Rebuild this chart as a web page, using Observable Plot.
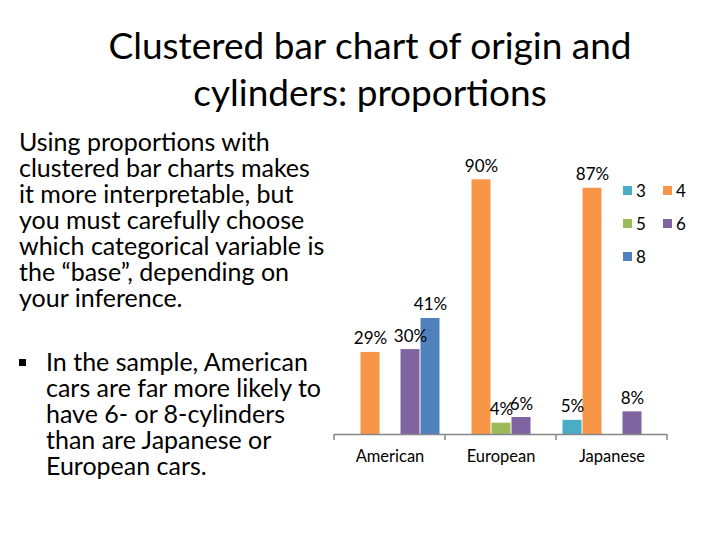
<!DOCTYPE html>
<html>
<head>
<meta charset="utf-8">
<script src="https://cdn.jsdelivr.net/npm/d3@7"></script>
<script src="https://cdn.jsdelivr.net/npm/@observablehq/plot@0.6"></script>
<style>
  html, body { margin: 0; padding: 0; background: #fff; }
  #page { position: relative; width: 720px; height: 540px; overflow: hidden; font-family: Lato, "Noto Sans", sans-serif; color: #000; }
  #title { position: absolute; left: 0; width: 740px; top: 21px; text-align: center; font-size: 37px; line-height: 47px; }
  #body { position: absolute; left: 19px; top: 128px; font-size: 25px; line-height: 26px; white-space: pre; }
  #bullet { position: absolute; left: 46px; top: 348px; font-size: 25px; line-height: 26px; white-space: pre; }
  #bulletMark { position: absolute; left: 19px; top: 359px; width: 7px; height: 7px; background: #000; }
  #chart { position: absolute; left: 333px; top: 140px; }
  #legend { position: absolute; left: 623px; top: 180px; font-size: 17px; }
  .item { position: absolute; display: flex; align-items: center; white-space: nowrap; }
  .sw { width: 9px; height: 9px; margin-right: 4px; }
</style>
</head>
<body>
<div id="page">
  <div id="title">Clustered bar chart of origin and<br>cylinders: proportions</div>
  <div id="body">Using proportions with
clustered bar charts makes
it more interpretable, but
you must carefully choose
which categorical variable is
the “base”, depending on
your inference.</div>
  <div id="bulletMark"></div>
  <div id="bullet">In the sample, American
cars are far more likely to
have 6- or 8-cylinders
than are Japanese or
European cars.</div>
  <div id="chart"></div>
  <div id="legend"></div>
</div>
<script>
const origins = ["American", "European", "Japanese"];
const cylinders = ["3", "4", "5", "6", "8"];
const american = [0, 29, 0, 30, 41];
const european = [0, 90, 4, 6, 0];
const japanese = [5, 87, 0, 8, 0];
const colors = ["#4BACC6", "#F79646", "#9BBB59", "#8064A2", "#4F81BD"];

const series = [american, european, japanese];
const rows = [];
origins.forEach((o, i) => cylinders.forEach((c, j) => {
  rows.push({origin: o, cyl: c, value: series[i][j]});
}));
const nonzero = rows.filter(d => d.value > 0);

const plot = Plot.plot({
  width: 335,
  height: 334,
  marginLeft: 0,
  marginRight: 0,
  marginTop: 11,
  marginBottom: 40,
  style: {fontFamily: "Lato, 'Noto Sans', sans-serif", background: "transparent", overflow: "visible"},
  fx: {domain: origins, paddingInner: 0, paddingOuter: 0, label: null},
  x: {domain: cylinders, paddingInner: 0, paddingOuter: 0.27, axis: null},
  y: {domain: [0, 100], axis: null},
  color: {domain: cylinders, range: colors},
  marks: [
    Plot.barY(rows, {fx: "origin", x: "cyl", y: "value", fill: "cyl", insetLeft: 0.5, insetRight: 0.5}),
    Plot.text(nonzero, {fx: "origin", x: "cyl", y: "value", text: d => d.value + "%", lineAnchor: "bottom", dy: -8, fontSize: 17, fill: "#000"}),
    Plot.ruleY([0], {stroke: "#868686", strokeWidth: 1.5}),
    Plot.axisFx({anchor: "bottom", tickSize: 0, tickPadding: 16, fontSize: 16.5, label: null})
  ]
});
document.getElementById("chart").appendChild(plot);

// group boundary tick marks below the category axis, from the plot's own scales
const fxs = plot.scale("fx");
const ys = plot.scale("y");
const y0 = ys.apply(0);
const bounds = origins.map(o => fxs.apply(o));
bounds.push(fxs.apply(origins[origins.length - 1]) + fxs.bandwidth);
const svg = d3.select(plot);
svg.append("g").selectAll("line").data(bounds).join("line")
  .attr("x1", d => d).attr("x2", d => d)
  .attr("y1", y0).attr("y2", y0 + 6)
  .attr("stroke", "#868686").attr("stroke-width", 1.5);

// legend
const legend = d3.select("#legend");
cylinders.forEach((c, i) => {
  const item = legend.append("div").attr("class", "item")
    .style("left", (i % 2) * 40 + "px")
    .style("top", Math.floor(i / 2) * 33 + "px");
  item.append("div").attr("class", "sw").style("background", colors[i]);
  item.append("span").text(c);
});
</script>
</body>
</html>
